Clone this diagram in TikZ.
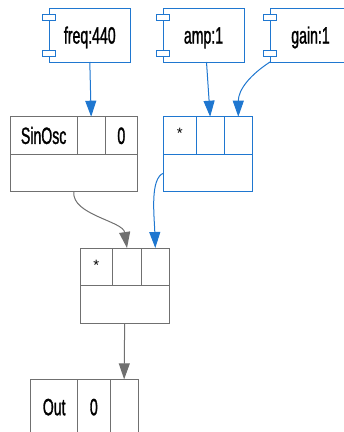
\documentclass[tikz,border=0pt]{standalone}
\usepackage{fontspec}
\setmainfont{Liberation Sans}[FakeStretch=0.6,FakeBold=1.2]
\newfontfamily\astfont{Liberation Sans}
\usetikzlibrary{positioning,arrows.meta}
\definecolor{ugblue}{HTML}{1F77D0}
\definecolor{uggrey}{HTML}{707070}
\tikzset{
  cell/.style  ={rectangle, draw=uggrey, line width=1pt, fill=white, inner sep=0pt,
                 outer sep=0pt, minimum height=37.6pt, text=black,
                 font=\fontsize{23.5}{26}\selectfont, text height=16.8pt, text depth=0pt},
  cellb/.style ={cell, draw=ugblue},
  src/.style   ={cellb, minimum width=81pt, minimum height=53.7pt, anchor=north west},
  port/.style  ={rectangle, draw=ugblue, line width=1pt, fill=white, inner sep=0pt,
                 minimum width=12.7pt, minimum height=6.2pt},
  flb/.style   ={-{Triangle[length=16pt,width=11pt]}, line width=1pt, draw=ugblue},
  flg/.style   ={flb, draw=uggrey}
}
\newcommand{\mulsign}{\raisebox{5pt}{\astfont\fontsize{15}{16}\selectfont *}}
\begin{document}
\begin{tikzpicture}[x=1pt,y=-1pt]
  \useasboundingbox (0,0) rectangle (344,432);
  \clip (0,0) rectangle (344,432);

  % number boxes
  \node[src] (freq) at (49.3,8.3) {freq:440};
  \node[src] (amp)  at (163,8.3)  {amp:1};
  \node[src] (gain) at (270,8.3)  {gain:1};
  \foreach \n in {freq,amp,gain}{
    \node[port] (\n i) at ([yshift=-9.2pt]\n.north west) {};
    \node[port] (\n o) at ([yshift=8.2pt]\n.south west) {};
  }

  % SinOsc
  \node[cell,minimum width=66.7pt,anchor=north west] (sin) at (10.3,116.7) {SinOsc};
  \node[cell,minimum width=28.3pt,right=0pt of sin] (sina) {};
  \node[cell,minimum width=32pt,right=0pt of sina] (sinb) {0};
  \node[cell,minimum width=127pt,anchor=north west] (sino) at (sin.south west) {};

  % first multiply
  \node[cellb,minimum width=32.3pt,anchor=north west] (mul) at (163.7,116.7) {\mulsign};
  \node[cellb,minimum width=28.3pt,right=0pt of mul] (mula) {};
  \node[cellb,minimum width=28pt,right=0pt of mula] (mulb) {};
  \node[cellb,minimum width=88.6pt,anchor=north west] (mulo) at (mul.south west) {};

  % second multiply
  \node[cell,minimum width=32.7pt,anchor=north west] (mtw) at (80,248) {\mulsign};
  \node[cell,minimum width=28.6pt,right=0pt of mtw] (mtwa) {};
  \node[cell,minimum width=28pt,right=0pt of mtwa] (mtwb) {};
  \node[cell,minimum width=89.3pt,anchor=north west] (mtwo) at (mtw.south west) {};

  % output
  \node[cell,minimum width=47pt,minimum height=55pt,anchor=north west] (out) at (30.7,379.3) {Out};
  \node[cell,minimum width=32.3pt,minimum height=55pt,right=0pt of out] (outa) {0};
  \node[cell,minimum width=28.3pt,minimum height=55pt,right=0pt of outa] (outb) {};

  \draw[flb] (freq.south) -- (sina.north);
  \draw[flb] ([xshift=3pt]amp.south) -- (mula.north);
  \draw[flb] (gain.south west) .. controls +(-20,13) and +(0,-27) .. (mulb.north);
  \draw[flb] (mulo.west) .. controls +(-14,5) and +(-1,-32) .. (mtwb.north);
  \draw[flg] (sino.south) .. controls +(-2,23) and +(-4,-27) .. (mtwa.north);
  \draw[flg] (mtwo.south) -- (outb.north);
\end{tikzpicture}
\end{document}
